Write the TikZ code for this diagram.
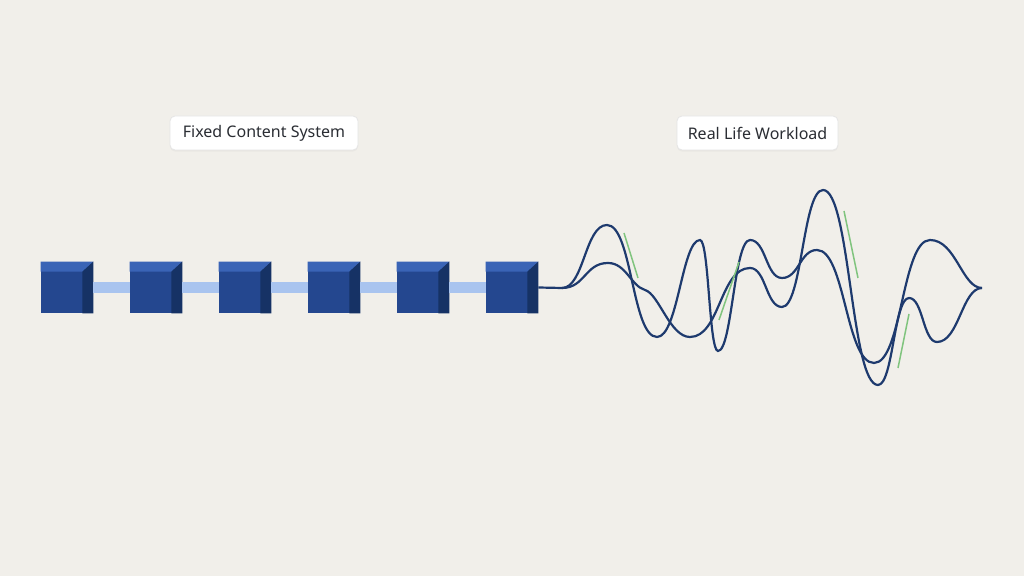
\documentclass[tikz,border=0pt]{standalone}
\usepackage{fontspec}
\setmainfont{Noto Sans}
\usetikzlibrary{calc,positioning,shadows}

\definecolor{paper}{HTML}{F1EFEA}
\definecolor{cubefront}{HTML}{24478F}
\definecolor{cubetop}{HTML}{3A64B6}
\definecolor{cubeside}{HTML}{163265}
\definecolor{link}{HTML}{A9C4EF}
\definecolor{wave}{HTML}{1E3A6E}
\definecolor{tick}{HTML}{80C47E}
\definecolor{labeltext}{HTML}{2A2D33}

\begin{document}
\begin{tikzpicture}[x=0.5pt, y=-0.5pt,
  cube/.style={rectangle, fill=cubefront, inner sep=0pt,
               minimum width=26pt, minimum height=25.5pt},
  bar/.style={link, line width=5.5pt},
  tag/.style={rectangle, draw=black!10, fill=white, rounded corners=2.5pt,
              minimum height=17pt, inner sep=0pt, font=\fontsize{8}{9}\selectfont,
              text=labeltext, drop shadow={opacity=0.06, shadow xshift=0pt, shadow yshift=-0.8pt}},
  signal/.style={wave, line width=1.1pt},
  mark line/.style={tick, line width=0.75pt},
]

\useasboundingbox (0,0) rectangle (1024,576);
\fill[paper] (0,0) rectangle (1024,576);

% labels
\node[tag, minimum width=94pt] (fixed) at (264,133) {Fixed Content System};
\node[tag, minimum width=80.5pt] (real) at (757.5,133) {Real Life Workload};

% chain of blocks
\foreach \i in {1,...,6} {
  \node[cube] (c\i) at ({67+89*(\i-1)},287.5) {};
  \fill[cubetop] (c\i.north west) -- (c\i.north east) -- ++(-11,10)
    -- ($(c\i.north west)+(0,10)$) -- cycle;
  \fill[cubeside] (c\i.north east) -- (c\i.south east) -- ++(-11,0)
    -- ($(c\i.north east)+(-11,10)$) -- cycle;
}
\foreach \i [evaluate=\i as \j using int(\i+1)] in {1,...,5}
  \draw[bar] (c\i.east) -- (c\j.west);

% workload signal
\coordinate (split) at (562,288);
\coordinate (tip) at (982,288);
\draw[signal] (c6.east) -- (split)
  .. controls +(22,0) and +(-22,0) .. (607,225)
  .. controls +(25,0) and +(-25,0) .. (657,337)
  .. controls +(21,0) and +(-18,0) .. (700,240)
  .. controls +(9,0) and +(-9,0) .. (718,351)
  .. controls +(14,0) and +(-16,0) .. (750,240)
  .. controls +(16,0) and +(-16,0) .. (782,278)
  .. controls +(17,0) and +(-17,0) .. (817,250)
  .. controls +(28,0) and +(-28,0) .. (874,363)
  .. controls +(28,0) and +(-28,0) .. (930,240)
  .. controls +(26,0) and +(-20,0) .. (tip);
\draw[signal] (split)
  .. controls +(23,0) and +(-23,0) .. (608,263)
  .. controls +(18,0) and +(-14,-4) .. (645,290)
  .. controls +(14,4) and +(-20,0) .. (690,337)
  .. controls +(30,0) and +(-30,0) .. (750,268)
  .. controls +(16,0) and +(-16,0) .. (782,307)
  .. controls +(20,0) and +(-20,0) .. (823,190)
  .. controls +(27,0) and +(-27,0) .. (878,385)
  .. controls +(15,0) and +(-15,0) .. (909,298)
  .. controls +(14,0) and +(-14,0) .. (937,342)
  .. controls +(22,0) and +(-20,0) .. (tip);

% green strokes
\draw[mark line] (624,233) -- (638,278);
\draw[mark line] (719,320) -- (739,262);
\draw[mark line] (844,211) -- (858,278);
\draw[mark line] (909,314) -- (898,368);

\end{tikzpicture}
\end{document}
